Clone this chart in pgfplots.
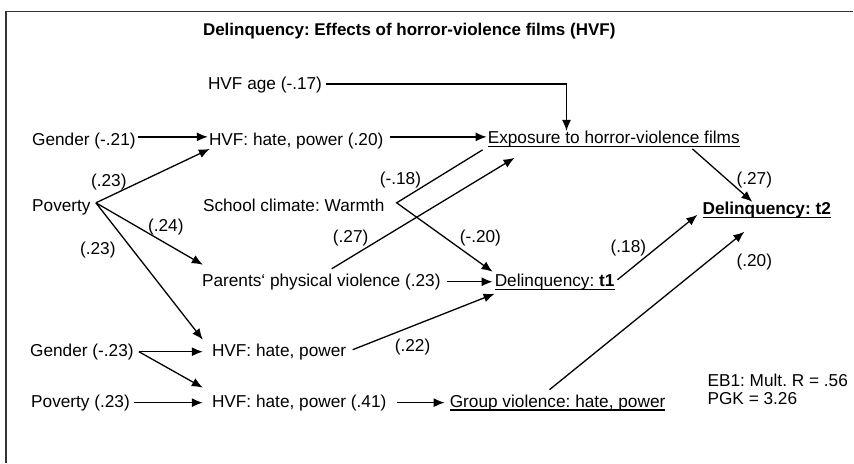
\documentclass[border=0pt]{standalone}
\usepackage{fontspec}
\setmainfont{Liberation Sans}
\usepackage{pgfplots}
\pgfplotsset{compat=1.18}
\usetikzlibrary{arrows.meta}
\frenchspacing
\newcommand\ul[1]{\setbox0\hbox{#1}\rlap{\rule[-3.2pt]{\wd0}{1.4pt}}\box0}
\tikzset{
  arr/.style={black, line width=1.3pt, -{Latex[length=11pt,width=9pt]}},
  lab/.style={anchor=base west, inner sep=0pt, text=black}}
\begin{document}
\begin{tikzpicture}[font=\fontsize{17.25}{20}\selectfont]
\begin{axis}[scale only axis, width=854pt, height=463pt,
  xmin=0, xmax=854, ymin=0, ymax=463, y dir=reverse,
  hide axis, clip=false]
% bounding frame
\addplot[draw=none] coordinates {(0,0) (854,463)};
\addplot[black!80, line width=1.5pt] coordinates {(6,463) (6,11.5) (854,11.5)};
% title
\node[lab] at (axis cs:203,36) {\fontsize{17}{20}\selectfont\bfseries Delinquency: Effects of horror-violence films (HVF)};
% texts
\node[lab] at (axis cs:208,90) {HVF age (-.17)};
\node[lab] at (axis cs:32,146) {Gender (-.21)};
\node[lab] at (axis cs:209,146) {HVF: hate, power (.20)};
\node[lab] at (axis cs:488,144) {\ul{Exposure to horror-violence films}};
\node[lab] at (axis cs:91,187) {(.23)};
\node[lab] at (axis cs:32,212) {Poverty};
\node[lab] at (axis cs:203,212) {School climate: Warmth};
\node[lab] at (axis cs:380,185) {(-.18)};
\node[lab] at (axis cs:737,185) {(.27)};
\node[lab] at (axis cs:703,215) {\ul{\bfseries Delinquency: t2}};
\node[lab] at (axis cs:148,232) {(.24)};
\node[lab] at (axis cs:333,243) {(.27)};
\node[lab] at (axis cs:460,243) {(-.20)};
\node[lab] at (axis cs:611,253) {(.18)};
\node[lab] at (axis cs:80,255) {(.23)};
\node[lab] at (axis cs:737,267) {(.20)};
\node[lab] at (axis cs:202,287) {Parents‘ physical violence (.23)};
\node[lab] at (axis cs:495,287) {\ul{Delinquency: \bfseries t1}};
\node[lab] at (axis cs:395,352) {(.22)};
\node[lab] at (axis cs:30,357) {Gender (-.23)};
\node[lab] at (axis cs:212,357) {HVF: hate, power};
\node[lab] at (axis cs:708,387) {EB1: Mult. R = .56};
\node[lab] at (axis cs:708,405) {PGK = 3.26};
\node[lab] at (axis cs:31,408) {Poverty (.23)};
\node[lab] at (axis cs:212,408) {HVF: hate, power (.41)};
\node[lab] at (axis cs:450,408) {\ul{Group violence: hate, power}};
% arrows
\addplot[arr] coordinates {(326,84) (567,84) (567,131)};
\addplot[arr] coordinates {(138,137) (208,137)};
\addplot[arr] coordinates {(390,137) (487,137)};
\addplot[arr] coordinates {(96,203) (210,149)};
\addplot[arr] coordinates {(96,203) (203,265)};
\addplot[arr] coordinates {(96,203) (203,340)};
\addplot[arr] coordinates {(483,150) (397,203) (493,272)};
\addplot[arr] coordinates {(332,269) (515,158)};
\addplot[arr] coordinates {(447,282) (493,282)};
\addplot[arr] coordinates {(618,280) (698,215)};
\addplot[arr] coordinates {(693,149) (753,202)};
\addplot[arr] coordinates {(550,390) (745,232)};
\addplot[arr] coordinates {(139,352) (203,352)};
\addplot[arr] coordinates {(139,352) (203,388)};
\addplot[arr] coordinates {(353,350) (495,294)};
\addplot[arr] coordinates {(134,403) (203,403)};
\addplot[arr] coordinates {(397,403) (445,403)};
\end{axis}
\end{tikzpicture}
\end{document}
